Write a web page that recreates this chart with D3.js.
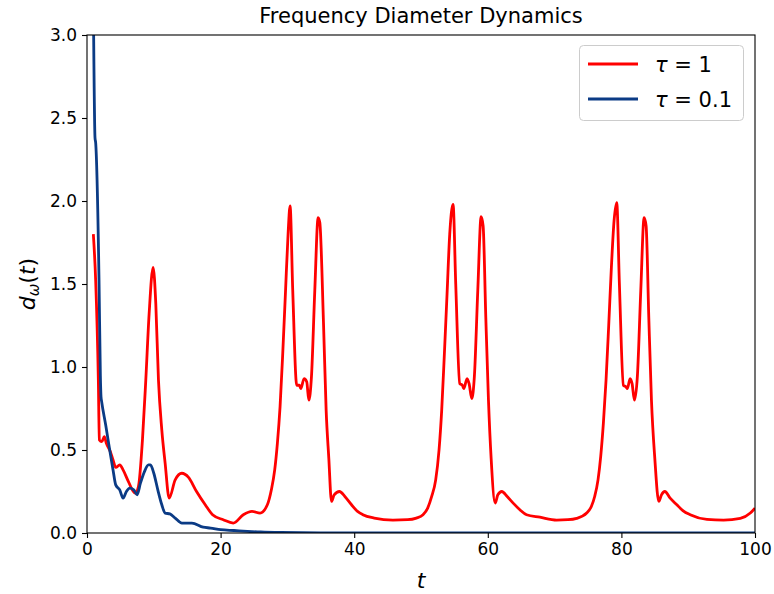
<!DOCTYPE html>
<html>
<head>
<meta charset="utf-8">
<script src="https://cdn.jsdelivr.net/npm/d3@7/dist/d3.min.js"></script>
<style>
  html, body { margin: 0; padding: 0; background: #fff; }
  svg { display: block; font-family: "DejaVu Sans", sans-serif; }
</style>
</head>
<body>
<svg id="chart" width="774" height="594"></svg>
<script>
// ---- data ----
const title = "Frequency Diameter Dynamics";
const xTicks = [0, 20, 40, 60, 80, 100];
const yTicks = [0.0, 0.5, 1.0, 1.5, 2.0, 2.5, 3.0];
const seriesLabels = ["1", "0.1"];

// tau = 1 (red)
const tRed = [0.95, 1.3, 1.7, 1.85, 2.2, 2.6, 2.9, 3.5, 3.9, 4.3, 4.9, 5.4, 6.2, 7.2, 7.7, 8.3, 8.8, 9.3, 9.9, 10.3, 10.7, 11.2, 11.7, 12.3, 13.2, 14.2, 15.2, 16.4, 17.7, 18.8, 20.4, 21.9, 23.4, 24.7, 25.9, 27.0, 27.6, 28.1, 28.5, 28.9, 29.3, 29.7, 30.1, 30.4, 30.8, 31.4, 31.8, 32.0, 32.5, 32.9, 33.2, 33.6, 34.1, 34.6, 34.85, 35.4, 35.8, 36.2, 36.6, 37.0, 37.8, 38.6, 39.6, 40.5, 41.3, 43.0, 45.8, 48.0, 49.3, 50.3, 51.0, 51.6, 52.2, 52.7, 53.1, 53.5, 53.9, 54.3, 54.8, 55.2, 55.8, 56.2, 56.4, 56.9, 57.2, 57.6, 58.0, 58.5, 59.0, 59.3, 59.7, 60.1, 60.5, 61.1, 61.5, 62.1, 62.9, 63.8, 64.8, 65.8, 67.8, 70.3, 72.0, 73.3, 74.8, 75.5, 76.0, 76.5, 76.9, 77.3, 77.7, 78.1, 78.5, 78.9, 79.3, 79.7, 80.3, 80.7, 80.9, 81.3, 81.6, 81.95, 82.4, 82.9, 83.4, 83.7, 84.1, 84.5, 85.0, 85.6, 86.0, 86.5, 87.3, 88.3, 89.2, 90.3, 92.8, 95.3, 97.8, 99.3, 100];
const dRed = [1.80, 1.52, 0.92, 0.56, 0.55, 0.58, 0.54, 0.49, 0.44, 0.395, 0.41, 0.38, 0.31, 0.24, 0.28, 0.56, 0.92, 1.32, 1.60, 1.38, 0.92, 0.62, 0.42, 0.21, 0.32, 0.36, 0.335, 0.25, 0.17, 0.11, 0.08, 0.06, 0.11, 0.13, 0.12, 0.17, 0.26, 0.38, 0.54, 0.76, 1.08, 1.44, 1.80, 1.97, 1.46, 0.89, 0.89, 0.87, 0.93, 0.91, 0.80, 0.94, 1.46, 1.90, 1.87, 1.27, 0.74, 0.45, 0.19, 0.23, 0.25, 0.22, 0.17, 0.13, 0.11, 0.09, 0.078, 0.08, 0.09, 0.11, 0.15, 0.22, 0.32, 0.50, 0.74, 1.08, 1.44, 1.80, 1.98, 1.50, 0.90, 0.89, 0.87, 0.93, 0.90, 0.81, 0.95, 1.46, 1.905, 1.85, 1.30, 0.80, 0.45, 0.18, 0.23, 0.25, 0.22, 0.18, 0.14, 0.11, 0.095, 0.078, 0.08, 0.088, 0.12, 0.16, 0.22, 0.32, 0.46, 0.66, 0.92, 1.25, 1.60, 1.88, 1.99, 1.50, 0.89, 0.88, 0.87, 0.93, 0.90, 0.80, 0.95, 1.46, 1.90, 1.85, 1.30, 0.80, 0.45, 0.19, 0.23, 0.25, 0.21, 0.17, 0.135, 0.11, 0.082, 0.078, 0.088, 0.12, 0.15];

// tau = 0.1 (blue)
const tBlue = [0.95, 1.2, 1.3, 1.8, 2.0, 2.1, 2.2, 2.8, 3.4, 3.9, 4.3, 4.9, 5.4, 5.9, 6.4, 7.0, 7.5, 8.0, 8.6, 9.2, 9.5, 10.0, 10.6, 11.2, 11.7, 12.4, 13.2, 14.2, 15.7, 17.4, 18.5, 20.0, 22.0, 24.0, 26.0, 29.0, 35.0, 50.0, 100.0];
const dBlue = [3.20, 2.38, 2.35, 1.52, 0.95, 0.82, 0.79, 0.65, 0.50, 0.38, 0.29, 0.26, 0.21, 0.25, 0.27, 0.26, 0.23, 0.30, 0.37, 0.41, 0.41, 0.36, 0.26, 0.17, 0.12, 0.115, 0.09, 0.06, 0.06, 0.035, 0.03, 0.02, 0.015, 0.01, 0.006, 0.003, 0.001, 0.0, 0.0];

const colors = ["#ff0000", "#0b3b85"];

// ---- layout ----
const svg = d3.select("#chart");
const L = 87, R = 755, T = 35, B = 533;
const x = d3.scaleLinear().domain([0, 100]).range([L, R]);
const y = d3.scaleLinear().domain([0, 3]).range([B, T]);

svg.append("defs").append("clipPath").attr("id", "clip")
  .append("rect").attr("x", L).attr("y", T).attr("width", R - L).attr("height", B - T);

const line = d3.line().x(d => x(d[0])).y(d => y(d[1])).curve(d3.curveMonotoneX);

const redPts = tRed.map((t, i) => [t, dRed[i]]);
const bluePts = tBlue.map((t, i) => [t, dBlue[i]]);

const g = svg.append("g").attr("clip-path", "url(#clip)");
g.append("path").datum(redPts).attr("d", line).attr("fill", "none")
  .attr("stroke", colors[0]).attr("stroke-width", 2.8).attr("stroke-linejoin", "round").attr("stroke-linecap", "butt");
g.append("path").datum(bluePts).attr("d", line).attr("fill", "none")
  .attr("stroke", colors[1]).attr("stroke-width", 2.8).attr("stroke-linejoin", "round").attr("stroke-linecap", "butt");

// axes
const xAxis = d3.axisBottom(x).tickValues(xTicks).tickFormat(d3.format("d")).tickSizeOuter(0).tickSize(5).tickPadding(5);
const yAxis = d3.axisLeft(y).tickValues(yTicks).tickFormat(d3.format(".1f")).tickSizeOuter(0).tickSize(5).tickPadding(5);

const gx = svg.append("g").attr("transform", `translate(0,${B})`).call(xAxis);
const gy = svg.append("g").attr("transform", `translate(${L},0)`).call(yAxis);
[gx, gy].forEach(a => {
  a.select(".domain").remove();
  a.selectAll("line").attr("stroke", "#000").attr("stroke-width", 1.1);
  a.selectAll("text").attr("font-family", "DejaVu Sans").attr("font-size", 17).attr("fill", "#000");
});

// spines
svg.append("rect").attr("x", L).attr("y", T).attr("width", R - L).attr("height", B - T)
  .attr("fill", "none").attr("stroke", "#000").attr("stroke-width", 1.1);

// title
svg.append("text").attr("x", (L + R) / 2).attr("y", 23).attr("text-anchor", "middle")
  .attr("font-size", 21).attr("fill", "#000").text(title);

// x label
svg.append("text").attr("x", (L + R) / 2).attr("y", 588).attr("text-anchor", "middle")
  .attr("font-size", 22).attr("font-style", "italic").attr("fill", "#000").text("t");

// y label
const yl = svg.append("text").attr("transform", `translate(35,${(T + B) / 2}) rotate(-90)`)
  .attr("text-anchor", "middle").attr("font-size", 22).attr("fill", "#000");
yl.append("tspan").attr("font-style", "italic").text("d");
yl.append("tspan").attr("font-style", "italic").attr("font-size", 15).attr("dy", 4).text("ω");
yl.append("tspan").attr("dy", -4).text("(");
yl.append("tspan").attr("font-style", "italic").text("t");
yl.append("tspan").text(")");

// legend
const lg = svg.append("g");
lg.append("rect").attr("x", 579.5).attr("y", 45.5).attr("width", 164).attr("height", 75).attr("rx", 4)
  .attr("fill", "#fff").attr("fill-opacity", 0.8).attr("stroke", "#cccccc").attr("stroke-width", 1);
[64, 99].forEach((ly, i) => {
  lg.append("line").attr("x1", 588).attr("x2", 638).attr("y1", ly).attr("y2", ly)
    .attr("stroke", colors[i]).attr("stroke-width", 2.8);
  const tx = lg.append("text").attr("x", 655).attr("y", ly + 8).attr("font-size", 21).attr("fill", "#000");
  tx.append("tspan").attr("font-style", "italic").text("τ");
  tx.append("tspan").text(" = " + seriesLabels[i]);
});
</script>
</body>
</html>
